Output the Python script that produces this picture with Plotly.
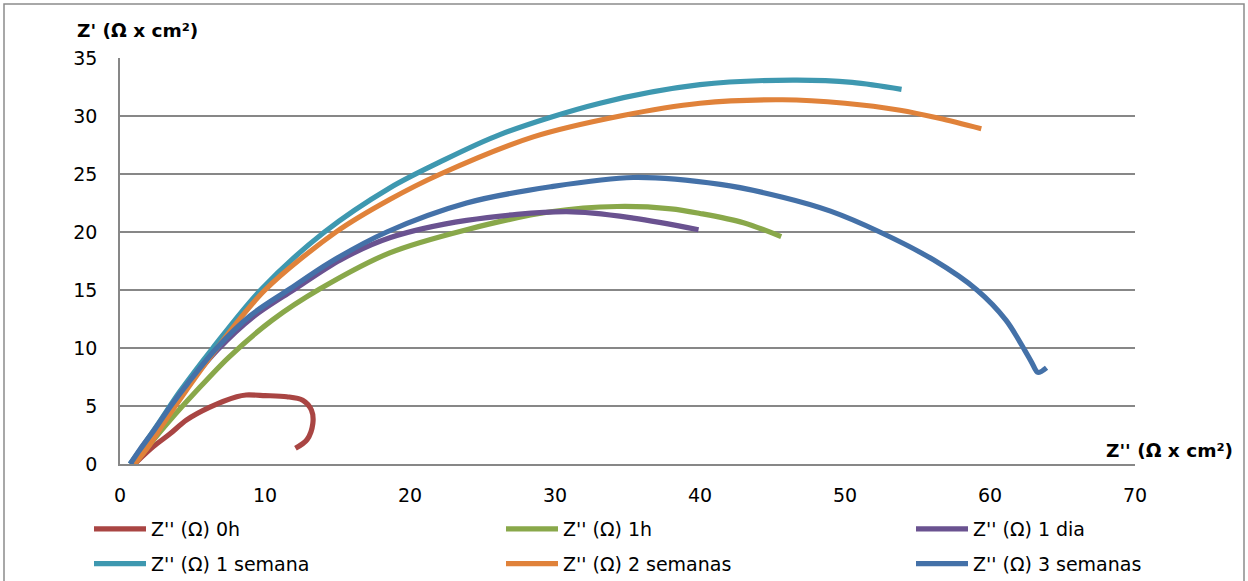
import plotly.graph_objects as go

# ---- data (Z'' on x, Z' on y) ----
names = ["Z'' (Ω) 0h", "Z'' (Ω) 1h", "Z'' (Ω) 1 dia",
         "Z'' (Ω) 1 semana", "Z'' (Ω) 2 semanas", "Z'' (Ω) 3 semanas"]
colors = ["#A94543", "#89A84A", "#6A5290", "#3E98B0", "#E0823A", "#4471A8"]

x_0h = [1.0, 2.3, 3.45, 4.6, 6.2, 8.05, 8.7, 10.0, 11.5, 12.6, 13.2, 13.3, 12.9, 12.1]
y_0h = [0.0, 1.5, 2.6, 3.8, 4.9, 5.8, 5.95, 5.9, 5.8, 5.5, 4.65, 3.5, 2.1, 1.35]

x_1h = [1.0, 2.0, 3.4, 5.2, 7.5, 10.5, 13.8, 18.6, 23.9, 29.7, 34.3, 38.0, 40.0, 43.0, 45.6]
y_1h = [0.0, 1.6, 3.7, 6.2, 9.2, 12.4, 15.1, 18.2, 20.2, 21.75, 22.2, 22.0, 21.6, 20.8, 19.6]

x_1d = [0.8, 1.5, 2.5, 3.6, 4.8, 6.7, 9.2, 11.95, 15.2, 18.6, 23.9, 30.8, 35.4, 39.9]
y_1d = [0.0, 1.3, 3.0, 5.0, 7.0, 9.8, 12.7, 15.0, 17.6, 19.5, 21.0, 21.75, 21.2, 20.2]

x_1s = [0.7, 1.5, 2.6, 4.1, 6.4, 9.7, 14.1, 18.6, 22.0, 26.2, 33.1, 40.0, 46.4, 50.5, 53.9]
y_1s = [0.0, 1.4, 3.4, 6.2, 10.0, 15.0, 20.0, 23.8, 26.0, 28.4, 31.1, 32.7, 33.1, 32.9, 32.3]

x_2s = [1.0, 1.9, 3.0, 4.6, 6.7, 10.0, 14.9, 18.6, 22.1, 28.5, 34.5, 40.0, 45.7, 50.0, 53.8, 56.5, 59.4]
y_2s = [0.0, 1.4, 3.5, 6.4, 10.0, 15.0, 20.0, 22.8, 25.0, 28.2, 30.0, 31.1, 31.4, 31.1, 30.5, 29.8, 28.9]

x_3s = [0.7, 1.4, 2.4, 3.5, 4.7, 6.6, 9.0, 11.6, 14.5, 18.4, 23.9, 29.7, 35.4, 41.4, 45.7, 49.0,
        52.4, 56.1, 59.1, 61.1, 62.4, 62.9, 63.3, 63.9]
y_3s = [0.0, 1.3, 3.0, 5.0, 7.0, 9.9, 12.8, 15.0, 17.4, 20.0, 22.5, 23.9, 24.7, 24.1, 23.0, 21.8,
        20.0, 17.6, 15.0, 12.4, 9.8, 8.7, 7.9, 8.3]

xs = [x_0h, x_1h, x_1d, x_1s, x_2s, x_3s]
ys = [y_0h, y_1h, y_1d, y_1s, y_2s, y_3s]

x_ticks = [0, 10, 20, 30, 40, 50, 60, 70]
y_ticks = [0, 5, 10, 15, 20, 25, 30, 35]

FONT = "DejaVu Sans"
W, H = 1248, 581
L, R, T, B = 120, 113, 58, 117
PW, PH = W - L - R, H - T - B


def px_x(p):
    return (p - L) / PW


def px_y(p):
    return (H - B - p) / PH


# legend column assignment: three columns, two rows
legend_ids = ["legend", "legend2", "legend3", "legend", "legend2", "legend3"]

fig = go.Figure()
for i, (nm, c, x, y) in enumerate(zip(names, colors, xs, ys)):
    fig.add_trace(go.Scatter(x=x, y=y, mode="lines", name=nm, legend=legend_ids[i],
                             legendgroup=f"g{i}",
                             line=dict(color=c, width=5.2, shape="spline", smoothing=0.9)))

grid_c = "#878787"
leg_common = dict(orientation="v", xanchor="left", yanchor="top", y=px_y(510),
                  font=dict(size=19, family=FONT), bgcolor="rgba(0,0,0,0)",
                  tracegroupgap=7, itemwidth=52)
fig.update_layout(
    width=W, height=H,
    margin=dict(l=L, r=R, t=T, b=B, autoexpand=False),
    paper_bgcolor="white", plot_bgcolor="white",
    font=dict(family=FONT, size=19, color="black"),
    xaxis=dict(range=[0, 70], tickvals=x_ticks, showgrid=False, zeroline=False,
               showline=True, linecolor=grid_c, linewidth=1.5, ticks="",
               ticklabelstandoff=13, tickfont=dict(size=19)),
    yaxis=dict(range=[0, 35], tickvals=y_ticks, showgrid=True, gridcolor=grid_c,
               gridwidth=1.5, zeroline=False, showline=True, linecolor=grid_c,
               linewidth=1.5, ticks="", ticklabelstandoff=17, tickfont=dict(size=19)),
    legend=dict(x=px_x(89), **leg_common),
    legend2=dict(x=px_x(501), **leg_common),
    legend3=dict(x=px_x(911), **leg_common),
    showlegend=True,
)

fig.add_annotation(text="<b>Z' (Ω x cm²)</b>", xref="paper", yref="paper",
                   x=px_x(75), y=px_y(30), xanchor="left", yanchor="middle",
                   showarrow=False, font=dict(size=18.5))
fig.add_annotation(text="<b>Z'' (Ω x cm²)</b>", xref="paper", yref="paper",
                   x=px_x(1104), y=px_y(450), xanchor="left", yanchor="middle",
                   showarrow=False, font=dict(size=18.5))

fig.add_shape(type="rect", xref="paper", yref="paper",
              x0=px_x(4), x1=px_x(1244), y0=px_y(595), y1=px_y(4),
              line=dict(color="#8c8c8c", width=1.5), fillcolor="rgba(0,0,0,0)", layer="below")

fig.write_html("out.html",
               config={"displayModeBar": False},
               post_script="document.body.style.margin='0';document.body.style.overflow='hidden';")
